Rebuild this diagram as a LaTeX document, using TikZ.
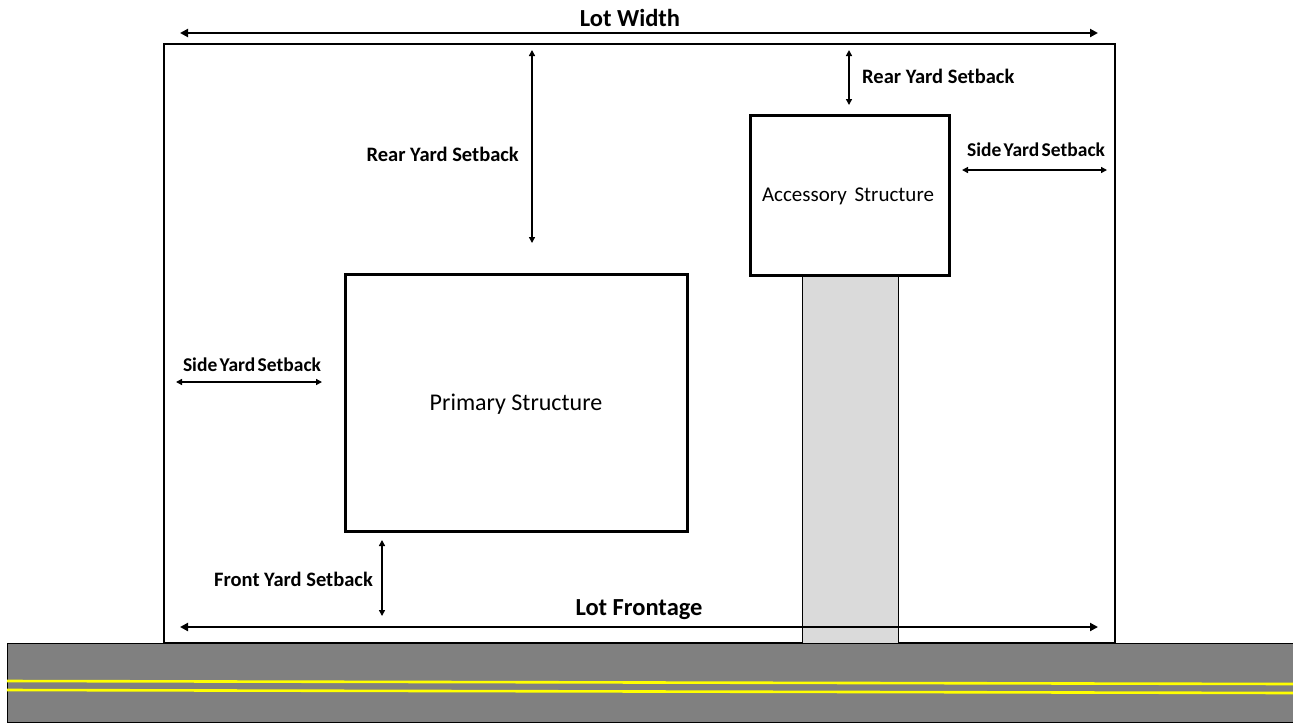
\documentclass[tikz,border=0pt]{standalone}
\usepackage{fontspec}
\setmainfont{Carlito}
\usetikzlibrary{arrows.meta,positioning}

\definecolor{roadgray}{RGB}{128,128,128}
\definecolor{drivegray}{RGB}{218,218,218}
\definecolor{lineyellow}{RGB}{255,255,0}

\newcommand{\tsp}{\hspace{-2pt}}

\tikzset{
  dimarrow/.style={{Triangle[length=6pt,width=6pt]}-{Triangle[length=6pt,width=6pt]},line width=1.4pt},
  bigarrow/.style={{Triangle[length=8pt,width=8pt]}-{Triangle[length=8pt,width=8pt]},line width=2.4pt},
  setback/.style={font=\fontsize{20.5}{24}\selectfont\bfseries,inner sep=0pt},
  sidesetback/.style={font=\fontsize{19.5}{23}\selectfont\bfseries,inner sep=0pt},
  lotlabel/.style={font=\fontsize{24.5}{29}\selectfont\bfseries,inner sep=0pt}
}

\begin{document}
\begin{tikzpicture}[x=1pt,y=1pt,yscale=-1,xscale=1]
\useasboundingbox (0,0) rectangle (1293,724);

%road
\draw [fill=roadgray ,line width=1pt ]  (7,643) rectangle (1293,722)   ;
\draw [lineyellow ,line width=2.6pt ]  (7,681) -- (1293,684) ;
\draw [lineyellow ,line width=2.6pt ]  (7,690) -- (1293,693) ;


%lot and driveway
\draw [line width=1.3pt ]  (164,44) rectangle (1115,643)   ;
\draw [fill=drivegray ,line width=1pt ]  (802,275) rectangle (898,643)   ;


%structures
\draw [line width=3pt ]  (345,274) rectangle (687,531)   ;
\node (primary) [font=\fontsize{24}{28}\selectfont ] at (516,404) {Primary Structure};
\draw [fill=white ,line width=3pt ]  (750,115) rectangle (949,275)   ;
\node (accessory) [font=\fontsize{21}{25}\selectfont ] at (848,196) {Accessory\hspace{3pt} Structure};


%lot width
\coordinate (lotwL) at (180,33);
\coordinate (lotwR) at (1098,33);
\draw [bigarrow]  (lotwL) -- (lotwR) ;
\node (lotwidth) [lotlabel] at (630,18) {Lot Width};


%rear yard, primary
\coordinate (rearT) at (532,50);
\coordinate (rearB) at (532,243);
\draw [dimarrow]  (rearT) -- (rearB) ;
\node (reartext) [setback ,anchor=east] at (519,154) {Rear Yard Setback};


%rear yard, accessory
\coordinate (accrearT) at (849,50);
\coordinate (accrearB) at (849,105);
\draw [dimarrow]  (accrearT) -- (accrearB) ;
\node (accreartext) [setback ,anchor=west] at (862,76) {Rear Yard Setback};


%side yard, right
\coordinate (siderL) at (962,170);
\coordinate (siderR) at (1107,170);
\draw [dimarrow]  (siderL) -- (siderR) ;
\node (sidertext) [sidesetback] at (1036,150) {Side\tsp{} Yard\tsp{} Setback};


%side yard, left
\coordinate (sidelL) at (176,382);
\coordinate (sidelR) at (322,382);
\draw [dimarrow]  (sidelL) -- (sidelR) ;
\node (sideltext) [sidesetback] at (252,365) {Side\tsp{} Yard\tsp{} Setback};


%front yard
\coordinate (frontT) at (382,540);
\coordinate (frontB) at (382,616);
\draw [dimarrow]  (frontT) -- (frontB) ;
\node (fronttext) [setback ,anchor=east] at (373,579) {Front Yard Setback};


%lot frontage
\coordinate (frontageL) at (180,627);
\coordinate (frontageR) at (1098,627);
\draw [bigarrow]  (frontageL) -- (frontageR) ;
\node (frontage) [lotlabel] at (639,610) {Lot Frontage};

\end{tikzpicture}
\end{document}
